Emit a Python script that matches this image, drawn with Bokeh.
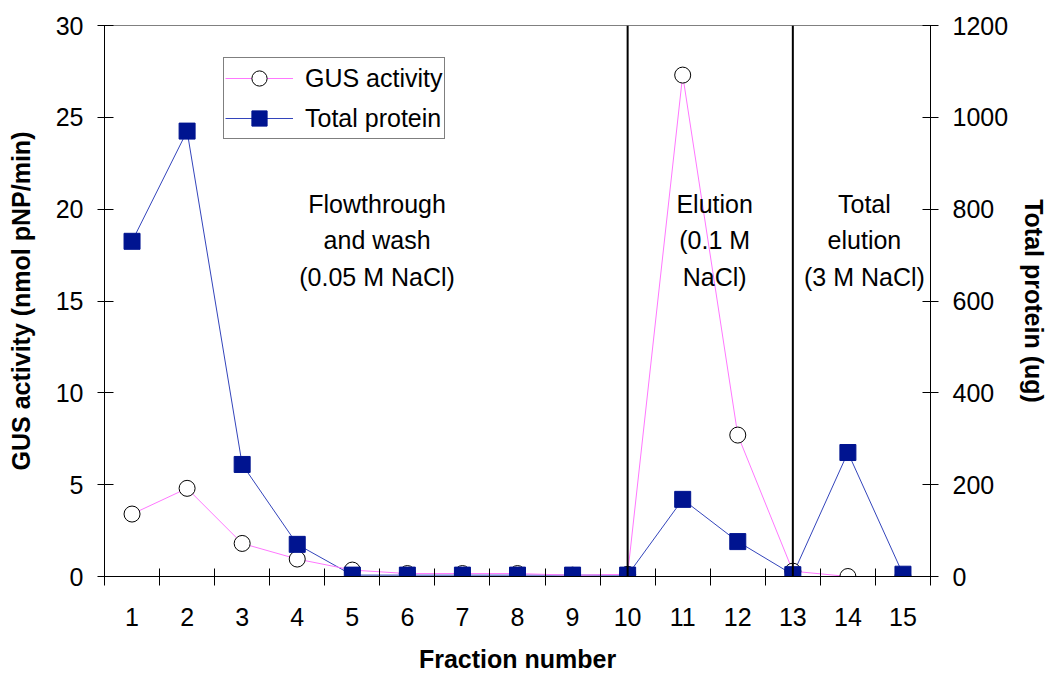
from bokeh.plotting import figure
from bokeh.models import Range1d, LinearAxis, FixedTicker, Span, Legend, LegendItem, ColumnDataSource
from bokeh.embed import file_html
from bokeh.resources import INLINE
from bokeh.core.properties import value

# ---- data ----
fractions = list(range(1, 16))
gus_activity = [3.4, 4.8, 1.8, 0.95, 0.35, 0.16, 0.16, 0.16, 0.07, 0.12, 27.3, 7.7, 0.29, 0.0, 0.0]
total_protein = [730, 970, 244, 70, 3, 3, 3, 3, 3, 3, 168, 76, 4, 270, 5]
left_ticks = [0, 5, 10, 15, 20, 25, 30]
right_ticks = [0, 200, 400, 600, 800, 1000, 1200]
region_bounds = [10, 13]
region_text = [
    ["Flowthrough", "and wash", "(0.05 M NaCl)"],
    ["Elution", "(0.1 M", "NaCl)"],
    ["Total", "elution", "(3 M NaCl)"],
]

FONT = "Liberation Sans"
FS = "25px"

p = figure(width=1051, height=675, output_backend="svg", toolbar_location=None,
           x_range=Range1d(0.5, 15.5), y_range=Range1d(0, 30),
           min_border_left=104, min_border_right=120, min_border_top=25, min_border_bottom=99)
p.extra_y_ranges = {"protein": Range1d(0, 1200)}
p.grid.visible = False
p.outline_line_color = "#808080"
p.background_fill_color = "white"
p.border_fill_color = "white"

# x axis: labels at fractions, minor ticks between them
xax = p.xaxis[0]
xax.ticker = FixedTicker(ticks=fractions, minor_ticks=[f - 0.5 for f in fractions] + [15.5])
xax.major_tick_in = 0
xax.major_tick_out = 0
xax.minor_tick_in = 8
xax.minor_tick_out = 9
xax.minor_tick_line_color = "black"
xax.major_label_standoff = 22
xax.axis_label = "Fraction number"
xax.axis_label_standoff = 16

# left axis
yax = p.yaxis[0]
yax.ticker = FixedTicker(ticks=left_ticks)
yax.minor_tick_line_color = None
yax.major_tick_in = 9
yax.major_tick_out = 7
yax.major_label_standoff = 14
yax.axis_label = "GUS activity (nmol pNP/min)"
yax.axis_label_standoff = 18

# right axis
rax = LinearAxis(y_range_name="protein", ticker=FixedTicker(ticks=right_ticks),
                 axis_label="Total protein (ug)")
rax.minor_tick_line_color = None
rax.major_tick_in = 8
rax.major_tick_out = 8
rax.major_label_standoff = 14
rax.axis_label_standoff = 9
p.add_layout(rax, "right")

for ax in [xax, yax, rax]:
    ax.major_label_text_font = FONT
    ax.major_label_text_font_size = FS
    ax.major_label_text_color = "black"
    ax.axis_label_text_font = FONT
    ax.axis_label_text_font_size = FS
    ax.axis_label_text_font_style = "bold"
    ax.axis_label_text_color = "black"
    ax.axis_line_color = "black"
    ax.major_tick_line_color = "black"

src = ColumnDataSource(dict(x=fractions, gus=gus_activity, prot=total_protein))

prot_line = p.line("x", "prot", source=src, y_range_name="protein", line_color="#3344BB", line_width=1)
gus_line = p.line("x", "gus", source=src, line_color="#FF77FF", line_width=1)
gus_pts = p.scatter("x", "gus", source=src, marker="circle", size=16,
                    fill_color="white", line_color="black", line_width=1)
prot_pts = p.scatter("x", "prot", source=src, y_range_name="protein", marker="square", size=16,
                     fill_color="#001490", line_color="#001490")

for b in region_bounds:
    p.add_layout(Span(location=b, dimension="height", line_color="black", line_width=2))

# region annotations
ann_x = [5.45, 11.58, 14.3]
ann_y = [20.3, 18.3, 16.3]
tx, ty, tt = [], [], []
for cx, lines in zip(ann_x, region_text):
    for yy, t in zip(ann_y, lines):
        tx.append(cx); ty.append(yy); tt.append(t)
p.text(x=tx, y=ty, text=tt, text_font=value(FONT), text_font_size=FS,
       text_align="center", text_baseline="middle", text_color="black")

legend = Legend(items=[LegendItem(label="GUS activity", renderers=[gus_line, gus_pts]),
                       LegendItem(label="Total protein", renderers=[prot_line, prot_pts])],
                location=(119, 437))
legend.label_text_font = FONT
legend.label_text_font_size = FS
legend.label_text_color = "black"
legend.border_line_color = "black"
legend.border_line_width = 1
legend.glyph_width = 68
legend.glyph_height = 38
legend.label_height = 38
legend.spacing = 2
legend.padding = 1
legend.margin = 0
legend.label_standoff = 12
p.add_layout(legend)

open("out.html", "w").write(file_html(p, INLINE))
